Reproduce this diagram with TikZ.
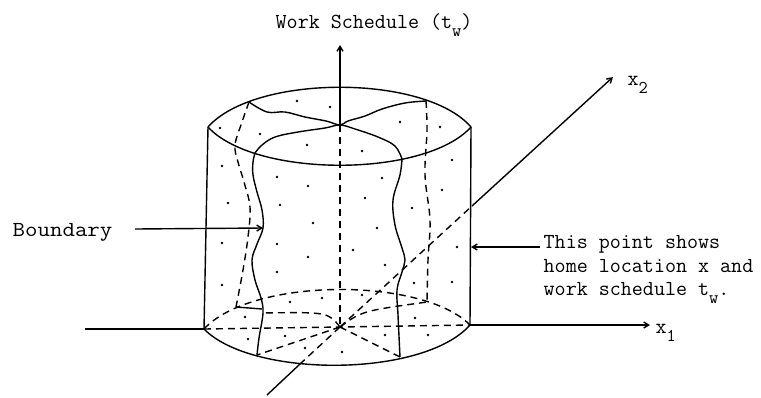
\documentclass[tikz,border=0pt]{standalone}
\usepackage{fontspec}
\usepackage{graphicx}
\usetikzlibrary{arrows.meta}
\newcommand{\lowsub}[1]{\raisebox{-8bp}{\fontsize{18}{18}\selectfont #1}}
\begin{document}
\begin{tikzpicture}[x=1bp,y=-1bp, line width=1.4bp,
  hidden/.style={dash pattern=on 7bp off 5bp, line width=1.4bp},
  barb/.style={-{Straight Barb[length=5bp,width=6bp]}},
  lab/.style={font=\ttfamily\fontsize{21.5}{24}\selectfont, inner sep=0pt, anchor=base west},
  dotmark/.style={circle, fill=black, inner sep=0pt, minimum size=2.9bp},
  smoothline/.style={smooth, tension=0.6}]
\useasboundingbox (0,0) rectangle (761,397);
% key points
\coordinate (TL) at (208,127);
\coordinate (TR) at (471,127);
\coordinate (BL) at (204,329);
\coordinate (BR) at (470,325);
\coordinate (O) at (340,327);
\coordinate (TC) at (340,125);
\coordinate (ztip) at (340,45);
\coordinate (x1l) at (85,329);
\coordinate (x1tip) at (650,325);
\coordinate (x2out) at (472,206);
\coordinate (x2tip) at (613,77);
\coordinate (x2f) at (300,364);
\coordinate (x2end) at (267,395);
% boundary junctions
\coordinate (JLB) at (249,102);
\coordinate (JRB) at (426,101);
\coordinate (JLF) at (255,153);
\coordinate (JRF) at (402,159);
\coordinate (JLBb) at (236,307);
\coordinate (JRBb) at (427,302);
\coordinate (JLFb) at (257,355);
\coordinate (JRFb) at (400,357);
% cylinder
\draw (TL) .. controls (255,74) and (425,74) .. (TR);
\draw (TL) .. controls (255,178) and (425,178) .. (TR);
\draw (TL) -- (BL);
\draw (TR) -- (BR);
\draw (BL) .. controls (252,378) and (423,378) .. (BR);
\draw[hidden] (BL) .. controls (252,277) and (423,277) .. (BR);
% axes
\draw[barb] (TC) -- (ztip);
\draw[hidden] (TC) -- (O);
\draw (x1l) -- (BL);
\draw[hidden] (BL) -- (O) -- (BR);
\draw[barb] (BR) -- (x1tip);
\draw[hidden] (O) -- (x2out);
\draw[barb] (x2out) -- (x2tip);
\draw[hidden] (O) -- (x2f);
\draw (x2f) -- (x2end);
% boundary surface
\draw plot[smoothline] coordinates {(JLF) (253,162) (253,175) (257,192) (262,210) (263,228) (257,244) (252,260) (255,280) (261,298) (263,313) (259,338) (JLFb)};
\draw plot[smoothline] coordinates {(JRF) (400,175) (393,200) (395,225) (402,248) (405,260) (402,272) (397,290) (398,315) (JRFb)};
\draw plot[smoothline] coordinates {(JLF) (262,145) (275,137) (298,132) (325,128) (TC) (355,129) (378,137) (395,146) (JRF)};
\draw plot[smoothline] coordinates {(JLB) (267,112) (285,112) (305,117) (326,121) (TC) (348,121) (365,116) (382,109) (405,103) (JRB)};
\draw[hidden] plot[smoothline] coordinates {(JLB) (242,122) (235,145) (238,162) (244,182) (250,207) (248,237) (243,270) (JLBb)};
\draw[hidden] plot[smoothline] coordinates {(JRB) (427,130) (425,175) (430,220) (428,260) (JRBb)};
\draw (JLBb) -- (262,309);
\draw[hidden] (O) .. controls (328,312) .. (262,313);
\draw[hidden] (O) -- (JLFb);
\draw[hidden] (O) -- (JRFb);
\draw[hidden] (O) .. controls (362,311) .. (JRBb);
% dots
\foreach \p in {(297,101),(330,107),(220,128),(260,134),(307,145),(362,151),(400,122),(440,127),(452,160),
  (222,166),(277,177),(308,186),(382,178),(228,203),(280,205),(365,198),(412,208),(442,190),
  (313,223),(377,228),(222,243),(277,244),(353,250),(308,257),(385,265),(457,247),(277,272),
  (222,285),(414,283),(452,282),(290,302),(322,298),(362,295),(245,317),(415,318),(248,339),
  (285,336),(305,348),(342,352),(385,335),(428,335)}
  \node[dotmark] at \p {};
% labels and leaders
\node[lab] (title) at (275,28) {Work Schedule (t\lowsub{w})};
\node[lab] (bdy) at (12,236) {\scalebox{1.13}[1]{Boundary}};
\coordinate (bdyStart) at (135,229);
\coordinate (bdyEnd) at (263,228);
\draw[barb] (bdyStart) -- (bdyEnd);
\node[lab] (pt1) at (543,248) {This point shows};
\node[lab] (pt2) at (543,272) {home location x and};
\node[lab] (pt3) at (543,295) {work schedule t\lowsub{w}.};
\coordinate (ptStart) at (540,247);
\coordinate (ptTip) at (471,247);
\draw[barb] (ptStart) -- (ptTip);
\node[lab] (x2lab) at (627,85) {x\lowsub{2}};
\node[lab] (x1lab) at (655,333) {x\lowsub{1}};
\end{tikzpicture}
\end{document}
